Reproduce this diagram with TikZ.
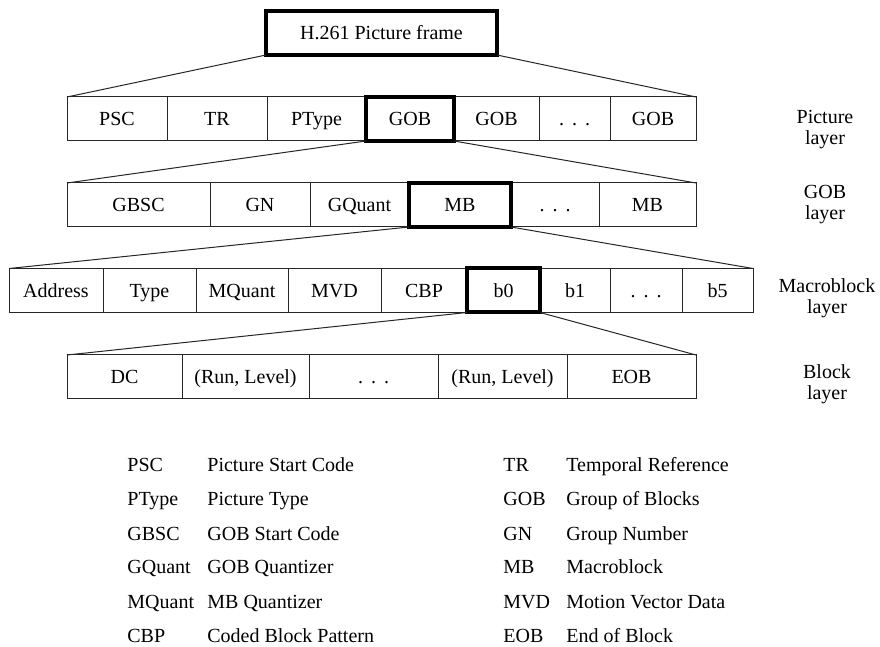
\documentclass[tikz,border=0pt]{standalone}
\usepackage{fontspec}
\setmainfont{Liberation Serif}
\usetikzlibrary{positioning}
\newcommand{\fielddots}{.\hspace{4pt}.\hspace{4pt}.}

\begin{document}
\begin{tikzpicture}[
  x=0.5pt, y=-0.5pt,
  font=\fontsize{10}{10.5}\selectfont,
  node distance=0pt,
  cell/.style={
    rectangle, draw=black!85, line width=0.5pt, outer sep=0pt, inner sep=0pt,
    minimum height=22pt, minimum width=#1, anchor=west,
    text height=6.6pt, text depth=0pt
  },
  focus/.style={line width=2pt, draw=black},
  layer/.style={align=center},
  abbr/.style={anchor=base west, inner sep=0pt},
  link/.style={line width=0.5pt, draw=black!85}
]
\useasboundingbox (0,0) rectangle (880,647);
% top frame
\node[cell=115.5pt, focus, anchor=center] (frame) at (381.5,33) {H.261 Picture frame};
% picture layer
\node[cell=50pt] (psc) at (67,119) {PSC};
\node[cell=50pt, right=of psc] (tr) {TR};
\node[cell=49.5pt, right=of tr] (ptype) {PType};
\node[cell=44pt, right=of ptype] (gob) {GOB};
\node[cell=42.5pt, right=of gob] (gobb) {GOB};
\node[cell=35.5pt, right=of gobb] (pdots) {\fielddots};
\node[cell=43pt, right=of pdots] (gobc) {GOB};
% GOB layer
\node[cell=71.5pt] (gbsc) at (67,205) {GBSC};
\node[cell=50pt, right=of gbsc] (gn) {GN};
\node[cell=49.5pt, right=of gn] (gquant) {GQuant};
\node[cell=51pt, right=of gquant] (mb) {MB};
\node[cell=44pt, right=of mb] (gdots) {\fielddots};
\node[cell=48.5pt, right=of gdots] (mbb) {MB};
% macroblock layer
\node[cell=47pt] (addr) at (9,290.5) {Address};
\node[cell=46.5pt, right=of addr] (type) {Type};
\node[cell=46pt, right=of type] (mquant) {MQuant};
\node[cell=46.5pt, right=of mquant] (mvd) {MVD};
\node[cell=43pt, right=of mvd] (cbp) {CBP};
\node[cell=36.5pt, right=of cbp] (bzero) {b0};
\node[cell=35pt, right=of bzero] (bone) {b1};
\node[cell=36pt, right=of bone] (mdots) {\fielddots};
\node[cell=35.5pt, right=of mdots] (bfive) {b5};
% block layer
\node[cell=57.5pt] (dc) at (67,377) {DC};
\node[cell=63.5pt, right=of dc] (runa) {(Run, Level)};
\node[cell=64.5pt, right=of runa] (bdots) {\fielddots};
\node[cell=64.5pt, right=of bdots] (runb) {(Run, Level)};
\node[cell=64.5pt, right=of runb] (eob) {EOB};
% highlighted fields on top
\draw[focus] (gob.south west) rectangle (gob.north east);
\draw[focus] (mb.south west) rectangle (mb.north east);
\draw[focus] (bzero.south west) rectangle (bzero.north east);
% expansion lines
\draw[link] (frame.south west) -- (psc.north west);
\draw[link] (frame.south east) -- (gobc.north east);
\draw[link] (gob.south west) -- (gbsc.north west);
\draw[link] (gob.south east) -- (mbb.north east);
\draw[link] (mb.south west) -- (addr.north west);
\draw[link] (mb.south east) -- (bfive.north east);
\draw[link] (bzero.south west) -- (dc.north west);
\draw[link] (bzero.south east) -- (eob.north east);
% layer names
\node[layer] (lpic) at (825,130) {Picture\\layer};
\node[layer] (lgob) at (825,205) {GOB\\layer};
\node[layer] (lmb) at (827,298) {Macroblock\\layer};
\node[layer] (lblk) at (827,384) {Block\\layer};
% legend
\node[abbr] (kpsc) at (127,472) {PSC};
\node[abbr] (dpsc) at (207,472) {Picture Start Code};
\node[abbr] (ktr) at (503,472) {TR};
\node[abbr] (dtr) at (566,472) {Temporal Reference};
\node[abbr] (kptype) at (127,506) {PType};
\node[abbr] (dptype) at (207,506) {Picture Type};
\node[abbr] (kgob) at (503,506) {GOB};
\node[abbr] (dgob) at (566,506) {Group of Blocks};
\node[abbr] (kgbsc) at (127,540) {GBSC};
\node[abbr] (dgbsc) at (207,540) {GOB Start Code};
\node[abbr] (kgn) at (503,540) {GN};
\node[abbr] (dgn) at (566,540) {Group Number};
\node[abbr] (kgquant) at (127,574) {GQuant};
\node[abbr] (dgquant) at (207,574) {GOB Quantizer};
\node[abbr] (kmb) at (503,574) {MB};
\node[abbr] (dmb) at (566,574) {Macroblock};
\node[abbr] (kmquant) at (127,608) {MQuant};
\node[abbr] (dmquant) at (207,608) {MB Quantizer};
\node[abbr] (kmvd) at (503,608) {MVD};
\node[abbr] (dmvd) at (566,608) {Motion Vector Data};
\node[abbr] (kcbp) at (127,642) {CBP};
\node[abbr] (dcbp) at (207,642) {Coded Block Pattern};
\node[abbr] (keob) at (503,642) {EOB};
\node[abbr] (deob) at (566,642) {End of Block};
\end{tikzpicture}
\end{document}
